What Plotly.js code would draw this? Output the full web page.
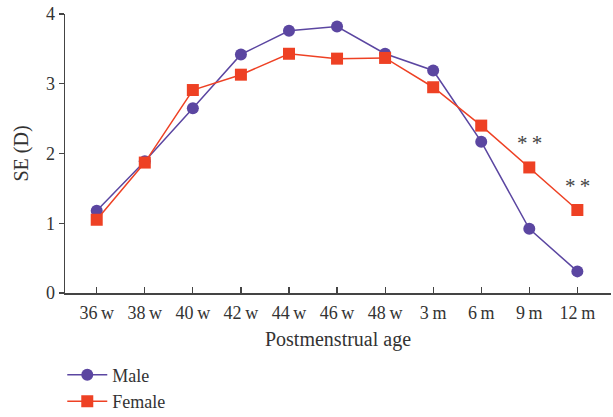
<!DOCTYPE html>
<html>
<head>
<meta charset="utf-8">
<script src="https://cdn.plot.ly/plotly-3.0.1.min.js"></script>
<style>html,body{margin:0;padding:0;background:#fff;}#chart{width:613px;height:417px;}</style>
</head>
<body>
<div id="chart"></div>
<script>
const categories = ["36\u2009w","38\u2009w","40\u2009w","42\u2009w","44\u2009w","46\u2009w","48\u2009w","3\u2009m","6\u2009m","9\u2009m","12\u2009m"];
const maleValues = [1.18, 1.89, 2.65, 3.42, 3.76, 3.82, 3.43, 3.19, 2.17, 0.92, 0.31];
const femaleValues = [1.05, 1.87, 2.91, 3.13, 3.43, 3.36, 3.37, 2.95, 2.40, 1.80, 1.19];
const sigCategories = ["9\u2009m","12\u2009m"];
const sigValues = [2.15, 1.53];
const sigLabels = ["*\u2009*","*\u2009*"];

const fontFam = "Liberation Serif, DejaVu Serif, serif";
const male = {x: categories, y: maleValues, name: "Male", type: "scatter", mode: "lines+markers",
  line: {color: "#5b46a1", width: 1.5}, marker: {symbol: "circle", size: 12, color: "#5b46a1"}};
const female = {x: categories, y: femaleValues, name: "Female", type: "scatter", mode: "lines+markers",
  line: {color: "#ee4124", width: 1.5}, marker: {symbol: "square", size: 12, color: "#ee4124"}};

const annotations = sigCategories.map((c, i) => ({x: c, y: sigValues[i], text: sigLabels[i], showarrow: false,
  font: {family: fontFam, size: 21, color: "#444"}, xref: "x", yref: "y"}));

const layout = {
  width: 613, height: 417,
  margin: {l: 65, r: 2, t: 14, b: 124, autoexpand: false},
  paper_bgcolor: "#fff", plot_bgcolor: "#fff",
  font: {family: fontFam, color: "#333", size: 16},
  showlegend: true,
  legend: {x: -0.005, xanchor: "left", y: -0.228, yanchor: "top", font: {family: fontFam, size: 18, color: "#333"},
    tracegroupgap: 0, itemwidth: 40, bgcolor: "rgba(0,0,0,0)"},
  xaxis: {type: "category", range: [-0.66, 10.7], showline: true, linecolor: "#444", linewidth: 1.5,
    ticks: "inside", ticklen: 6, tickwidth: 1.2, tickcolor: "#444", showgrid: false, zeroline: false,
    ticklabelstandoff: 3,
    tickfont: {family: fontFam, size: 18, color: "#333"},
    title: {text: "Postmenstrual age", font: {family: fontFam, size: 20, color: "#333"}, standoff: 10}},
  yaxis: {range: [0, 4], tickvals: [0,1,2,3,4], showline: true, linecolor: "#444", linewidth: 1.5,
    ticks: "outside", ticklen: 5, tickwidth: 1.2, tickcolor: "#444", showgrid: false, zeroline: false,
    tickfont: {family: fontFam, size: 18, color: "#333"},
    title: {text: "SE (D)", font: {family: fontFam, size: 20, color: "#333"}, standoff: 12}},
  annotations: annotations
};
Plotly.newPlot("chart", [male, female], layout, {displayModeBar: false, staticPlot: true});
</script>
</body>
</html>
